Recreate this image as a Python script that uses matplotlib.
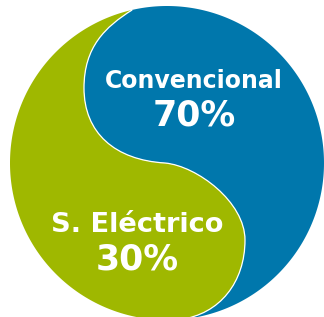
import numpy as np
import matplotlib
matplotlib.use("Agg")
import matplotlib.pyplot as plt
from matplotlib.path import Path
from matplotlib.patches import PathPatch

# data
labels = ["Convencional", "S. Eléctrico"]
values = [70, 30]
colors = ["#0077AC", "#9FB800"]

# geometry of the yin-yang style circle (image pixel coords, y down)
cx, cy, r = 167, 163, 157
top_ang = np.deg2rad(-102.8)
bot_ang = np.deg2rad(85.3)

T = (cx + r * np.cos(top_ang), cy + r * np.sin(top_ang))
B = (cx + r * np.cos(bot_ang), cy + r * np.sin(bot_ang))
L = (84, 88)     # left bulge of the upper lobe
M = (165, 163)   # middle of the S
R = (245, 240)   # right bulge of the lower lobe

# S shaped divider as cubic beziers
div_verts = [T,
             (T[0] - 27, T[1] + 17), (L[0], L[1] - 41), L,
             (L[0], L[1] + 45), (M[0] - 50, M[1] - 3), M,
             (M[0] + 32, M[1] + 3), (R[0], R[1] - 38), R,
             (R[0], R[1] + 42), (B[0] + 40, B[1] - 5), B]
div_codes = [Path.MOVETO] + [Path.CURVE4] * 12


def region(a0, a1):
    a = np.linspace(a0, a1, 200)
    arc = list(zip(cx + r * np.cos(a), cy + r * np.sin(a)))
    verts = div_verts + arc + [T]
    codes = div_codes + [Path.LINETO] * len(arc) + [Path.CLOSEPOLY]
    return Path(verts, codes)


fig = plt.figure(figsize=(3.24, 3.17), dpi=100)
ax = fig.add_axes([0, 0, 1, 1])
ax.set_xlim(0, 324)
ax.set_ylim(317, 0)
ax.axis("off")

ax.add_patch(PathPatch(region(bot_ang, top_ang), facecolor=colors[0], edgecolor="none"))
ax.add_patch(PathPatch(region(bot_ang, top_ang + 2 * np.pi), facecolor=colors[1], edgecolor="none"))
ax.add_patch(PathPatch(Path(div_verts, div_codes), facecolor="none",
                       edgecolor="white", lw=0.9))

# labels
ax.text(194, 88, labels[0], color="white", fontsize=17, fontweight="bold",
        ha="center", va="baseline")
ax.text(194, 125, f"{values[0]}%", color="white", fontsize=25, fontweight="bold",
        ha="center", va="baseline")
ax.text(137, 232, labels[1], color="white", fontsize=19.6, fontweight="bold",
        ha="center", va="baseline")
ax.text(137, 270, f"{values[1]}%", color="white", fontsize=25, fontweight="bold",
        ha="center", va="baseline")

fig.savefig("out.png", dpi=100)
